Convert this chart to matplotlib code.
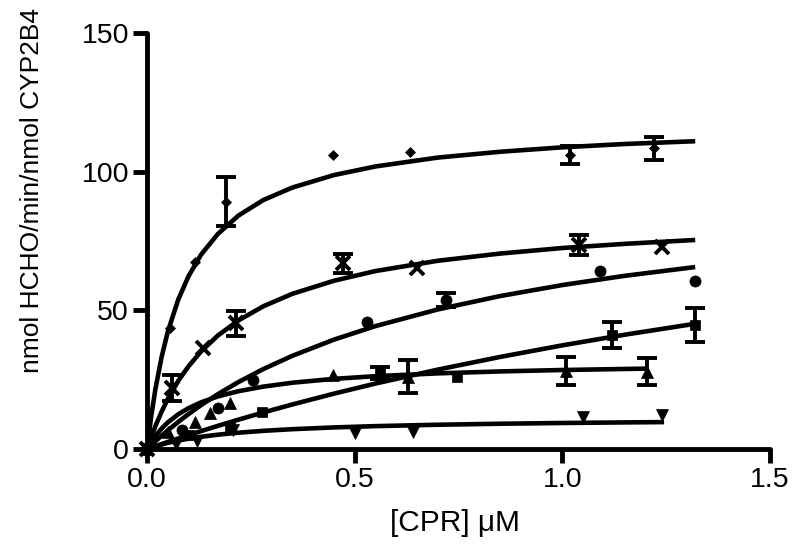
import matplotlib
matplotlib.use("Agg")
import matplotlib.pyplot as plt
import numpy as np

plt.rcParams['font.family'] = ['Liberation Sans', 'DejaVu Sans']

# ---------------- data ----------------
# measured points (mean, error bar half-length)
dia_x = [0, 0.055, 0.116, 0.19, 0.448, 0.633, 1.018, 1.22]
dia_y = [0, 43.6, 67.4, 89.2, 106.0, 107.0, 106.0, 108.4]
dia_e = [0, 0, 0, 8.8, 0, 0, 3.3, 4.2]

crs_x = [0, 0.06, 0.135, 0.214, 0.472, 0.65, 1.04, 1.24]
crs_y = [0, 22.0, 36.4, 45.3, 67.0, 65.3, 73.6, 72.8]
crs_e = [0, 4.7, 0, 4.6, 3.4, 0, 3.6, 0]

cir_x = [0, 0.085, 0.17, 0.255, 0.53, 0.72, 1.09, 1.32]
cir_y = [0, 7.0, 15.0, 25.0, 45.8, 53.7, 64.2, 60.6]
cir_e = [0, 0, 0, 0, 0, 2.5, 0, 0]

sqr_x = [0, 0.1, 0.2, 0.277, 0.56, 0.746, 1.12, 1.32]
sqr_y = [0, 5.0, 8.5, 13.3, 27.4, 26.0, 41.0, 44.7]
sqr_e = [0, 0, 0, 0, 2.2, 0, 4.7, 6.1]

tup_x = [0, 0.05, 0.116, 0.152, 0.2, 0.448, 0.628, 1.01, 1.203]
tup_y = [0, 6.0, 9.7, 13.0, 16.6, 26.7, 26.1, 28.2, 27.9]
tup_e = [0, 0, 0, 0, 0, 0, 5.9, 5.0, 4.9]

tdn_x = [0, 0.07, 0.12, 0.207, 0.5, 0.64, 1.05, 1.24]
tdn_y = [0, 2.0, 3.0, 7.0, 5.8, 6.1, 11.5, 12.3]
tdn_e = [0, 0, 0, 0, 0, 0, 0, 0]

# fitted curves
fit_x = [0, 0.01, 0.02, 0.035, 0.05, 0.075, 0.1, 0.13, 0.17, 0.22, 0.28,
         0.35, 0.45, 0.55, 0.7, 0.85, 1.0, 1.15, 1.32]
dia_fit = [0, 11.9, 21.6, 33.2, 42.4, 53.9, 62.4, 70.1, 77.5, 84.2, 89.8,
           94.3, 98.8, 101.9, 105.1, 107.2, 108.8, 110.0, 111.0]
crs_fit = [0, 4.35, 8.28, 13.5, 18.1, 24.6, 29.9, 35.2, 40.9, 46.4, 51.5,
           56.0, 60.7, 64.2, 67.9, 70.5, 72.5, 74.0, 75.4]
cir_fit = [0, 1.43, 2.82, 4.83, 6.76, 9.81, 12.66, 15.86, 19.77, 24.18, 28.87,
           33.65, 39.47, 44.35, 50.35, 55.18, 59.15, 62.47, 65.64]
sqr_fit = [0, 0.52, 1.04, 1.81, 2.58, 3.83, 5.05, 6.49, 8.36, 10.62, 13.22,
           16.11, 20.0, 23.64, 28.66, 33.23, 37.41, 41.24, 45.2]
tup_fx = [0, 0.01, 0.02, 0.035, 0.05, 0.075, 0.1, 0.13, 0.17, 0.22, 0.28,
          0.35, 0.45, 0.55, 0.7, 0.85, 1.0, 1.2]
tup_fit = [0, 2.54, 4.71, 7.42, 9.64, 12.55, 14.79, 16.87, 18.97, 20.88, 22.54,
           23.94, 25.33, 26.3, 27.31, 28.01, 28.52, 29.02]
tdn_fx = [0, 0.01, 0.02, 0.035, 0.05, 0.075, 0.1, 0.13, 0.17, 0.22, 0.28,
          0.35, 0.45, 0.55, 0.7, 0.85, 1.0, 1.15, 1.245]
tdn_fit = [0, 0.54, 1.03, 1.68, 2.26, 3.08, 3.77, 4.45, 5.19, 5.92, 6.59,
           7.19, 7.82, 8.29, 8.79, 9.15, 9.42, 9.63, 9.74]

x_ticks = [0.0, 0.5, 1.0, 1.5]
x_tick_labels = ['0.0', '0.5', '1.0', '1.5']
y_ticks = [0, 50, 100, 150]
y_tick_labels = ['0', '50', '100', '150']

# ---------------- plot ----------------
fig = plt.figure(figsize=(7.95, 5.6), dpi=100)
ax = fig.add_axes([0.185, 0.198, 0.7835, 0.743])

curve_kw = dict(color='black', lw=3.3, solid_capstyle='butt', zorder=2)
for fx, fy in [(fit_x, dia_fit), (fit_x, crs_fit), (fit_x, cir_fit),
               (fit_x, sqr_fit), (tup_fx, tup_fit), (tdn_fx, tdn_fit)]:
    ax.plot(fx, fy, **curve_kw)

series = [
    (dia_x, dia_y, dia_e, 'D', 5.0, 0),
    (crs_x, crs_y, crs_e, 'x', 10, 2.8),
    (cir_x, cir_y, cir_e, 'o', 8, 0),
    (sqr_x, sqr_y, sqr_e, 's', 7.5, 0),
    (tup_x, tup_y, tup_e, '^', 9, 0),
    (tdn_x, tdn_y, tdn_e, 'v', 9, 0),
]
for xs, ys, es, mk, ms, mew in series:
    yerr = [e if e > 0 else np.nan for e in es]
    ax.errorbar(xs, ys, yerr=yerr, fmt='none', ecolor='black',
                elinewidth=2.8, capsize=7, capthick=2.8, zorder=3)
    ax.plot(xs, ys, linestyle='none', marker=mk, markersize=ms,
            color='black', markeredgewidth=mew if mew else 0.5,
            markeredgecolor='black', zorder=4, clip_on=False)

ax.set_xlim(0, 1.5)
ax.set_ylim(0, 150)
ax.set_xticks(x_ticks)
ax.set_xticklabels(x_tick_labels)
ax.set_yticks(y_ticks)
ax.set_yticklabels(y_tick_labels)

for s in ['top', 'right']:
    ax.spines[s].set_visible(False)
for s in ['left', 'bottom']:
    ax.spines[s].set_linewidth(3.5)
    ax.spines[s].set_capstyle('round')
ax.tick_params(axis='both', width=3.5, length=10, labelsize=20.5, pad=3,
               direction='out', color='black')

ax.set_xlabel('[CPR] \u03bcM', fontsize=21.5)
ax.set_ylabel('nmol HCHO/min/nmol CYP2B4', fontsize=19)
ax.xaxis.set_label_coords(0.495, -0.145)
ax.yaxis.set_label_coords(-0.165, 0.622)

fig.savefig('out.png', dpi=100)
